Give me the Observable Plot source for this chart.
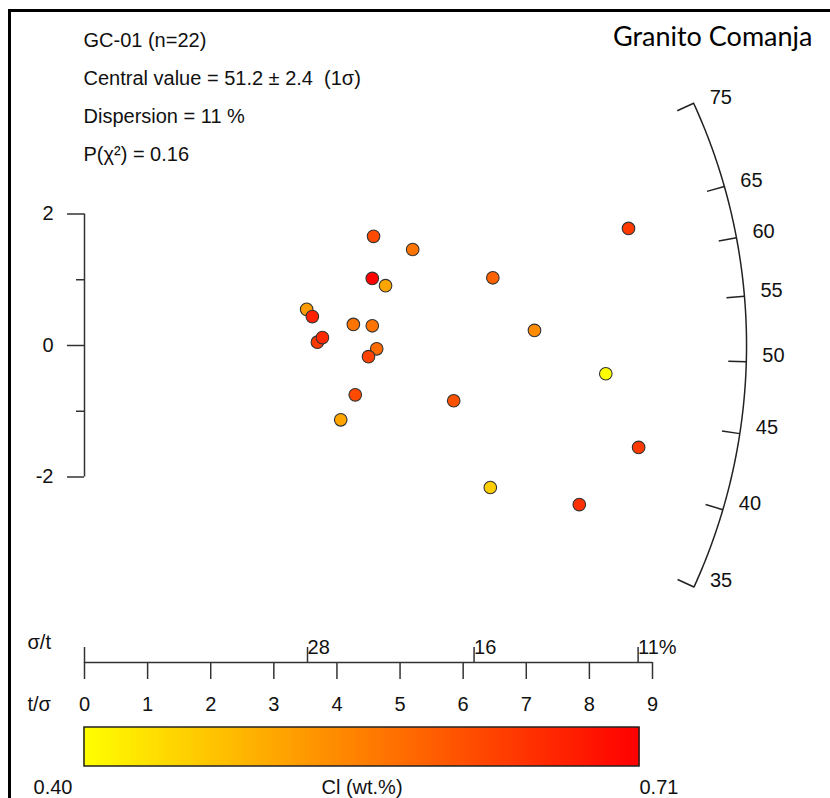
<!DOCTYPE html>
<html>
<head>
<meta charset="utf-8">
<script src="https://cdn.jsdelivr.net/npm/d3@7"></script>
<script src="https://cdn.jsdelivr.net/npm/@observablehq/plot@0.6"></script>
<style>
  body { margin: 0; background: #fff; }
  #wrap { position: relative; width: 830px; height: 798px; overflow: hidden; background: #fff;
          font-family: "Liberation Sans", Arial, sans-serif; }
  #border { position: absolute; left: 8px; top: 9px; width: 840px; height: 800px;
            border-left: 3px solid #000; border-top: 3px solid #000; }
  .layer { position: absolute; left: 0; }
  .layer svg { overflow: visible; }
</style>
</head>
<body>
<div id="wrap"><div id="border"></div></div>
<script>
// ---------- data ----------
const tOverSigma = [4.58, 5.20, 8.62, 4.56, 4.77, 6.47, 3.52, 3.61, 4.26, 4.56, 7.13,
                    3.69, 3.77, 4.63, 4.50, 8.26, 4.29, 5.85, 4.06, 8.78, 6.43, 7.84];
const zScore     = [1.66, 1.46, 1.78, 1.02, 0.91, 1.03, 0.55, 0.44, 0.32, 0.30, 0.23,
                    0.05, 0.12, -0.05, -0.17, -0.43, -0.75, -0.84, -1.13, -1.55, -2.16, -2.42];
const clValues   = [0.62, 0.57, 0.64, 0.71, 0.51, 0.59, 0.52, 0.67, 0.57, 0.57, 0.54,
                    0.64, 0.66, 0.58, 0.63, 0.40, 0.62, 0.61, 0.51, 0.64, 0.46, 0.65];

const yTicks = [-2, 0, 2];
const yMinorTicks = [-1, 1];
const tsTicks = [0, 1, 2, 3, 4, 5, 6, 7, 8, 9];
const sigmaTickValues = [28.3, 16.2, 11.4];      // σ/t in %
const sigmaTickLabels = ["28", "16", "11%"];
const arcTickValues = [35, 40, 45, 50, 55, 60, 65, 75];
const centralValue = 51.2;
const clDomain = [0.40, 0.71];
const infoLines = ["GC-01 (n=22)", "Central value = 51.2 \u00b1 2.4  (1\u03c3)", "Dispersion = 11 %", "P(\u03c7\u00b2) = 0.16"];
const titleText = "Granito Comanja";
const colorLabel = "Cl (wt.%)";

// ---------- derived tables ----------
const points = tOverSigma.map((t, i) => ({ts: t, z: zScore[i], cl: clValues[i]}));

// arc geometry (data units): ellipse centred on the t/σ axis
const arcCx = 1.28, arcRx = 9.21, arcRy = 8.84, tickK = 0.969;
function arcHit(v) {
  const s = Math.log(v / centralValue);
  const A = 1 / (arcRx * arcRx) + (s * s) / (arcRy * arcRy);
  const B = -2 * arcCx / (arcRx * arcRx);
  const C = (arcCx * arcCx) / (arcRx * arcRx) - 1;
  const t = (-B + Math.sqrt(B * B - 4 * A * C)) / (2 * A);
  return {x: t, y: s * t};
}
const lo = d3.min(arcTickValues), hi = d3.max(arcTickValues);
const arcLine = d3.range(0, 241).map(i => arcHit(lo * Math.pow(hi / lo, i / 240)));
const arcTicks = arcTickValues.map(v => {
  const p = arcHit(v);
  return {v, x: p.x, y: p.y, xi: arcCx + (p.x - arcCx) * tickK, yi: p.y * tickK};
});

const font = "Liberation Sans, Arial, sans-serif";
const ink = "#111";
const colorScale = {type: "linear", domain: clDomain, range: ["#ffff00", "#ff0000"], interpolate: "rgb"};

function place(svg, top) {
  const d = document.createElement("div");
  d.className = "layer";
  d.style.top = top + "px";
  d.appendChild(svg);
  document.getElementById("wrap").appendChild(d);
}

// ---------- main radial panel ----------
const main = Plot.plot({
  width: 830, height: 610,
  marginLeft: 84, marginTop: 0, marginRight: 0, marginBottom: 0,
  x: {domain: [0, 9], range: [84, 652], axis: null},
  y: {domain: [-2, 2], range: [476.5, 213.5], axis: null},
  color: colorScale,
  style: {fontFamily: font, fontSize: "20px", color: ink, background: "transparent"},
  marks: [
    Plot.ruleX([0], {y1: -2, y2: 2, stroke: "#333", strokeWidth: 1.5}),
    Plot.axisY({ticks: yTicks, anchor: "left", tickSize: 17, tickPadding: 14, label: null,
                tickFormat: d => String(d), fontSize: 20, stroke: "#333", strokeWidth: 1.5, fill: ink}),
    Plot.axisY({ticks: yMinorTicks, anchor: "left", tickSize: 8, label: null,
                tickFormat: () => "", stroke: "#333", strokeWidth: 1.5}),
    Plot.line(arcLine, {x: "x", y: "y", stroke: "#222", strokeWidth: 1.5}),
    Plot.link(arcTicks, {x1: "x", y1: "y", x2: "xi", y2: "yi", stroke: "#222", strokeWidth: 1.5}),
    Plot.text(arcTicks, {x: "x", y: "y", text: d => String(d.v), dx: 16, dy: -6,
                         textAnchor: "start", fontSize: 20, fill: ink}),
    Plot.dot(points, {x: "ts", y: "z", fill: "cl", r: 6.3, stroke: "#333", strokeWidth: 1.1}),
    Plot.text([infoLines.join("\n")], {frameAnchor: "top-left", dx: -1, dy: 20, lineAnchor: "top",
                textAnchor: "start", lineHeight: 1.9, fontSize: 20, fill: ink}),
    Plot.text([titleText], {frameAnchor: "top-right", dx: -18, dy: 26, lineAnchor: "top",
                textAnchor: "end", fontFamily: "Lato, Carlito, sans-serif", fontSize: 27, fill: "#000"})
  ]
});
place(main, 0);

// ---------- precision axes (σ/t above, t/σ below) ----------
const sigmaPos = sigmaTickValues.map(v => 100 / v);
const sigmaLabelByPos = new Map(sigmaPos.map((p, i) => [p, sigmaTickLabels[i]]));
const axisPlot = Plot.plot({
  width: 830, height: 110,
  marginLeft: 84, marginRight: 0, marginTop: 52, marginBottom: 58,
  x: {domain: [0, 9], range: [84, 652], axis: null},
  y: {domain: [0, 1], range: [52, 100], axis: null},
  style: {fontFamily: font, fontSize: "20px", color: ink, background: "transparent"},
  marks: [
    Plot.ruleY([0], {x1: 0, x2: 9, stroke: "#333", strokeWidth: 1.5}),
    Plot.axisX({ticks: tsTicks, anchor: "bottom", tickSize: 17, tickPadding: 17, label: null,
                tickFormat: d => String(d), fontSize: 20, stroke: "#333", strokeWidth: 1.5, fill: ink}),
    Plot.axisX({ticks: [0], anchor: "top", tickSize: 16, label: null, tickFormat: () => "",
                stroke: "#333", strokeWidth: 1.5}),
    Plot.axisX({ticks: sigmaPos, anchor: "top", tickSize: 16, tickPadding: -7, label: null,
                tickFormat: d => sigmaLabelByPos.get(d), textAnchor: "start",
                fontSize: 20, stroke: "#333", strokeWidth: 1.5, fill: ink}),
    Plot.text(["\u03c3/t"], {frameAnchor: "top-left", dx: -57, dy: -20, lineAnchor: "middle",
                textAnchor: "start", fontSize: 20, fill: ink}),
    Plot.text(["t/\u03c3"], {frameAnchor: "top-left", dx: -57, dy: 42, lineAnchor: "middle",
                textAnchor: "start", fontSize: 20, fill: ink})
  ]
});
place(axisPlot, 610);

// ---------- colour bar ----------
const nSlices = 220;
const slices = d3.range(nSlices).map(i => ({
  a: clDomain[0] + (clDomain[1] - clDomain[0]) * i / nSlices,
  b: clDomain[0] + (clDomain[1] - clDomain[0]) * (i + 1) / nSlices
}));
const barPlot = Plot.plot({
  width: 830, height: 78,
  marginLeft: 84, marginRight: 191, marginTop: 7, marginBottom: 32,
  x: {domain: clDomain, range: [84, 639], axis: null},
  y: {domain: [0, 1], range: [46, 7], axis: null},
  color: colorScale,
  style: {fontFamily: font, fontSize: "20px", color: ink, background: "transparent"},
  marks: [
    Plot.rect(slices, {x1: "a", x2: "b", y1: 0, y2: 1, fill: d => (d.a + d.b) / 2,
                       insetLeft: -0.6, insetRight: -0.6}),
    Plot.rect([clDomain], {x1: d => d[0], x2: d => d[1], y1: 0, y2: 1, fill: "none",
                           stroke: "#222", strokeWidth: 1.5}),
    Plot.text([clDomain[0]], {x: d => d, frameAnchor: "bottom", dy: 21, dx: -12, lineAnchor: "middle",
                              textAnchor: "end", text: d => d.toFixed(2), fontSize: 20, fill: ink}),
    Plot.text([clDomain[1]], {x: d => d, frameAnchor: "bottom", dy: 21, dx: 0, lineAnchor: "middle",
                              textAnchor: "start", text: d => d.toFixed(2), fontSize: 20, fill: ink}),
    Plot.text([colorLabel], {x: (clDomain[0] + clDomain[1]) / 2, frameAnchor: "bottom", dy: 21,
                             lineAnchor: "middle", textAnchor: "middle", fontSize: 20, fill: ink})
  ]
});
place(barPlot, 720);
</script>
</body>
</html>
